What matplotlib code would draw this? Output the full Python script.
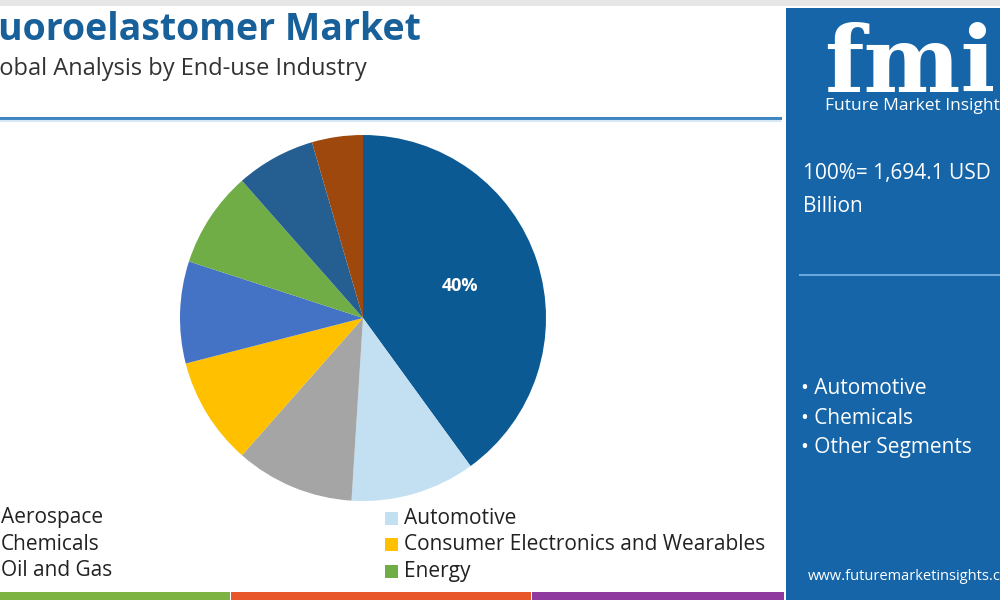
import matplotlib.pyplot as plt
from matplotlib.patches import Rectangle

# 市場シェア（時計回り、12時から）
segments = ["Aerospace", "Automotive", "Chemicals", "Consumer Electronics and Wearables",
            "Oil and Gas", "Energy", "Segment 7", "Segment 8"]
shares = [40.0, 11.0, 10.5, 9.5, 9.0, 8.5, 7.0, 4.5]
colors = ["#0b5a94", "#c3dff2", "#a5a5a5", "#ffc000", "#4472c4", "#70ad47", "#255e91", "#9e480e"]
legend_count = 6

panel_total = "100%= 1,694.1 USD\nBillion"
panel_bullets = ["Automotive", "Chemicals", "Other Segments"]
url = "www.futuremarketinsights.com"

plt.rcParams['font.family'] = ['Open Sans', 'DejaVu Sans']

fig = plt.figure(figsize=(10, 6), dpi=100)
W, H = 1000, 600

def px(x, y):
    return x / W, 1 - y / H

# 背景
bg = fig.add_axes([0, 0, 1, 1])
bg.set_xlim(0, W)
bg.set_ylim(H, 0)
bg.axis("off")
bg.add_patch(Rectangle((0, 0), W, 6, color="#e6e6e6", lw=0))
bg.add_patch(Rectangle((786, 8), 214, 592, color="#1565a8", lw=0))
bg.plot([0, 780], [118, 118], color="#3f86c0", lw=2.2)
bg.plot([0, 780], [120.5, 120.5], color="#d6e8f5", lw=1.5)
bg.plot([800, 1000], [275, 275], color="#6aa8dc", lw=1.5)
bg.add_patch(Rectangle((0, 592), 230, 8, color="#7cb342", lw=0))
bg.add_patch(Rectangle((231, 592), 300, 8, color="#e8572a", lw=0))
bg.add_patch(Rectangle((532, 592), 252, 8, color="#8e3a9e", lw=0))

# タイトル
fig.text(*px(-34, 30), "Fluoroelastomer Market", fontsize=27, fontweight="bold",
         color="#17609a", va="center", ha="left")
fig.text(*px(-24, 69), "Global Analysis by End-use Industry", fontsize=17,
         color="#333333", va="center", ha="left")

# ロゴ
bg.text(824, 92, "fmi", fontsize=66, fontweight="bold", color="white",
        family="DejaVu Serif", va="baseline", ha="left")
for y in range(30, 94, 5):
    bg.plot([815, 1000], [y, y], color="#1565a8", lw=1.0)
bg.text(825, 106, "Future Market Insights", fontsize=12.5, color="white",
        va="center", ha="left")

# 右パネルのテキスト
fig.text(*px(803, 190), panel_total, fontsize=15, color="white",
         va="center", ha="left", linespacing=1.7)
for i, b in enumerate(panel_bullets):
    fig.text(*px(801, 388 + i * 30), "• " + b, fontsize=15, color="white",
             va="center", ha="left")
fig.text(*px(808, 576), url, fontsize=10.5, color="white", va="center", ha="left")

# 円グラフ
cx, cy, r = 363, 318, 183
ax = fig.add_axes([(cx - r) / W, (H - cy - r) / H, 2 * r / W, 2 * r / H])
ax.pie(shares, colors=colors, startangle=90, counterclock=False,
       autopct=lambda p: f"{p:.0f}%" if p > 30 else "", pctdistance=0.56,
       textprops=dict(color="white", fontsize=13, fontweight="bold"),
       wedgeprops=dict(linewidth=0))
ax.set_xlim(-1, 1)
ax.set_ylim(-1, 1)
ax.set_aspect("auto")

# 凡例
for i in range(legend_count):
    col, row = i % 2, i // 2
    x0 = -18 if col == 0 else 385
    y0 = 518 + row * 26.5
    bg.add_patch(Rectangle((x0, y0 - 6.5), 13, 13, color=colors[i], lw=0))
    bg.text(x0 + 19, y0, segments[i], fontsize=15, color="#222222",
            va="center", ha="left")

fig.savefig("out.png", dpi=100)
